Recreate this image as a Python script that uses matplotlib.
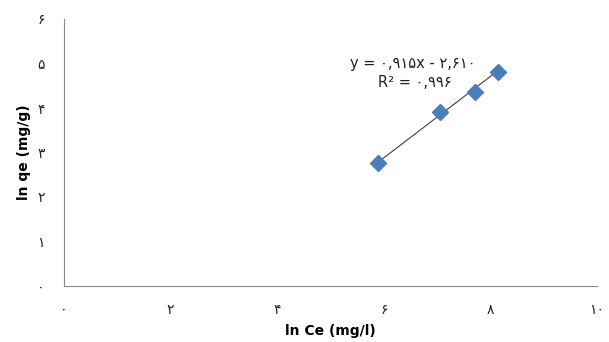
import matplotlib
matplotlib.use("Agg")
import matplotlib.pyplot as plt
import numpy as np

x_vals = [5.89, 7.05, 7.71, 8.14]
y_vals = [2.77, 3.92, 4.37, 4.82]
x_ticks = [0, 2, 4, 6, 8, 10]
x_tick_labels = ["۰", "۲", "۴", "۶", "۸", "۱۰"]
y_ticks = [0, 1, 2, 3, 4, 5, 6]
y_tick_labels = ["۰", "۱", "۲", "۳", "۴", "۵", "۶"]
slope, intercept = 0.915, -2.610
eq_text = "y = ۰,۹۱۵x - ۲,۶۱۰"
r2_text = "R² = ۰,۹۹۶"

plt.rcParams['font.family'] = ['DejaVu Sans']
fig = plt.figure(figsize=(6.09, 3.42), dpi=100)
ax = fig.add_axes([64/609, 1-286/342, (597-64)/609, (286-19)/342])

xs = np.array([x_vals[0], x_vals[-1]])
ax.plot(xs, slope*xs + intercept, color='#404040', lw=0.8, zorder=2)
ax.plot(x_vals, y_vals, linestyle='none', marker='D', ms=8,
        color='#4A7EBB', markeredgecolor='#4A7EBB', zorder=3)

ax.set_xlim(0, 10)
ax.set_ylim(0, 6)
ax.set_xticks(x_ticks)
ax.set_xticklabels(x_tick_labels)
ax.set_yticks(y_ticks)
ax.set_yticklabels(y_tick_labels)
ax.tick_params(length=0, labelsize=10, colors='#222222')
ax.tick_params(axis='x', pad=12)
ax.tick_params(axis='y', pad=14)
for s in ['top', 'right']:
    ax.spines[s].set_visible(False)
for s in ['left', 'bottom']:
    ax.spines[s].set_color('#888888')
    ax.spines[s].set_linewidth(0.8)

ax.set_xlabel("ln Ce (mg/l)", fontsize=10, fontweight='bold', labelpad=5)
ax.set_ylabel("ln qe (mg/g)", fontsize=10, fontweight='bold')
ax.yaxis.set_label_coords(-0.062, 0.5)

ax.text(5.37, 5.0, eq_text, fontsize=10.5, ha='left', va='center', color='#222222')
ax.text(5.89, 4.57, r2_text, fontsize=10.5, ha='left', va='center', color='#222222')

fig.savefig("out.png", dpi=100)
